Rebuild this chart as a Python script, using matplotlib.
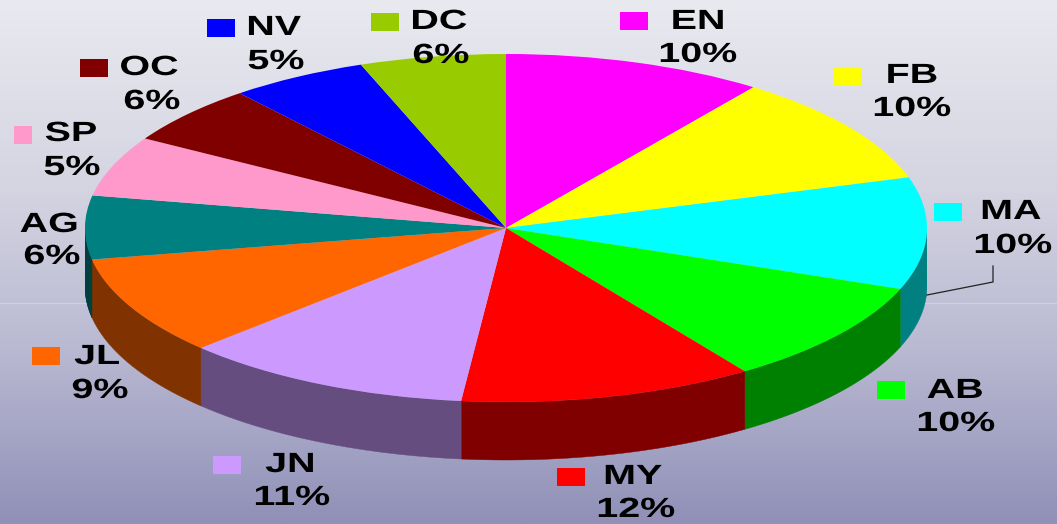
import numpy as np
import matplotlib
matplotlib.use("Agg")
import matplotlib.pyplot as plt
from matplotlib.patches import Rectangle
from matplotlib.colors import LinearSegmentedColormap, to_rgb
from matplotlib.patheffects import AbstractPathEffect
from matplotlib.transforms import Affine2D

# ---- data ----
months = ["EN", "FB", "MA", "AB", "MY", "JN", "JL", "AG", "SP", "OC", "NV", "DC"]
shares = [10.0, 10.3, 10.4, 9.7, 11.3, 11.2, 9.2, 5.9, 5.6, 5.5, 5.3, 5.6]
percent_labels = ["10%", "10%", "10%", "10%", "12%", "11%", "9%", "6%", "5%", "6%", "5%", "6%"]

# ---- style ----
colors = ["#FF00FF", "#FFFF00", "#00FFFF", "#00FF00", "#FF0000", "#CC99FF",
          "#FF6600", "#008080", "#FF99CC", "#800000", "#0000FF", "#99CC00"]
W, H = 1057, 524
CX, CY, RX, RY, DEPTH = 506, 228, 421, 174, 58
swatches = [(620, 12, 28), (833, 67, 28), (934, 203, 28), (877, 381, 28), (557, 468, 28), (213, 456, 28),
            (32, 347, 28), None, (14, 126, 18), (80, 59, 28), (207, 19, 28), (371, 13, 28)]
name_pos = [(698, 22), (912, 76), (1011, 212), (955, 391), (633, 477), (290, 465),
            (97, 357), (49, 225), (71, 134), (149, 68), (274, 28), (439, 22)]
pct_pos = [(698, 55), (912, 109), (1013, 246), (956, 424), (636, 510), (292, 498),
           (100, 391), (52, 257), (72, 168), (152, 102), (276, 62), (441, 56)]


class WideText(AbstractPathEffect):
    """Stretch a text's outline horizontally about its own centre."""
    def __init__(self, factor):
        super().__init__()
        self.factor = factor

    def draw_path(self, renderer, gc, tpath, affine, rgbFace=None):
        e = tpath.get_extents()
        c = (e.x0 + e.x1) / 2
        t = Affine2D().translate(-c, 0).scale(self.factor, 1).translate(c, 0) + affine
        renderer.draw_path(gc, tpath, t, rgbFace)


fig = plt.figure(figsize=(W / 100, H / 100), dpi=100)

# background
bg = fig.add_axes([0, 0, 1, 1], zorder=0)
cmap = LinearSegmentedColormap.from_list("bg", ["#E9E9F0", "#D6D6E3", "#B9B9D2", "#9090B8"])
bg.imshow(np.linspace(0, 1, 256)[:, None], aspect="auto", cmap=cmap, extent=(0, W, H, 0))
bg.plot([0, W], [303, 303], color="#D0D0E0", lw=0.9)
bg.set_xlim(0, W)
bg.set_ylim(H, 0)
bg.axis("off")

# pie: unit circle mapped to the squashed ellipse
ymin = -1 - DEPTH / RY - 0.05
ax = fig.add_axes([(CX - RX) / W, 1 - (CY - ymin * RY) / H, 2 * RX / W, RY * (1 - ymin) / H], zorder=1)
ax.patch.set_alpha(0)

edges = np.r_[0, np.cumsum(shares)] / np.sum(shares) * 2 * np.pi  # clockwise from top
d = DEPTH / RY


def wall(a0, a1, col, z):
    t = np.linspace(a0, a1, 80)
    x, y = np.sin(t), np.cos(t)
    ax.fill(np.r_[x, x[::-1]], np.r_[y, y[::-1] - d], color=col, lw=0.3, zorder=z)


for i, c in enumerate(colors):
    a0, a1 = edges[i], edges[i + 1]
    lo, hi = max(a0, np.pi / 2), min(a1, 3 * np.pi / 2)
    if hi > lo:
        wall(lo, hi, tuple(v * 0.5 for v in to_rgb(c)), 1)
# teal slice wraps past the widest point on the left, in shadow
wall(edges[7], 3 * np.pi / 2, tuple(v * 0.32 for v in to_rgb(colors[7])), 0.5)

wedges, _ = ax.pie(shares, colors=colors, startangle=90, counterclock=False, radius=1,
                   wedgeprops=dict(linewidth=0, zorder=2))
ax.set_aspect("auto")
ax.set_xlim(-1, 1)
ax.set_ylim(ymin, 1)
ax.axis("off")
for w in wedges:
    w.set_clip_on(False)

# overlay: labels
ov = fig.add_axes([0, 0, 1, 1], zorder=2)
ov.patch.set_alpha(0)
ov.set_xlim(0, W)
ov.set_ylim(H, 0)
ov.axis("off")

ov.plot([927, 993, 993], [295, 282, 266], color="#222222", lw=0.9)

font = dict(family="Liberation Sans", fontweight="bold", fontsize=20, color="black",
            ha="center", va="center", path_effects=[WideText(1.42)])
for i, m in enumerate(months):
    if swatches[i] is not None:
        x, y, w = swatches[i]
        ov.add_patch(Rectangle((x, y), w, 18, facecolor=colors[i], edgecolor="none"))
    ov.text(*name_pos[i], m, **font)
    ov.text(*pct_pos[i], percent_labels[i], **font)

fig.savefig("out.png", dpi=100)
